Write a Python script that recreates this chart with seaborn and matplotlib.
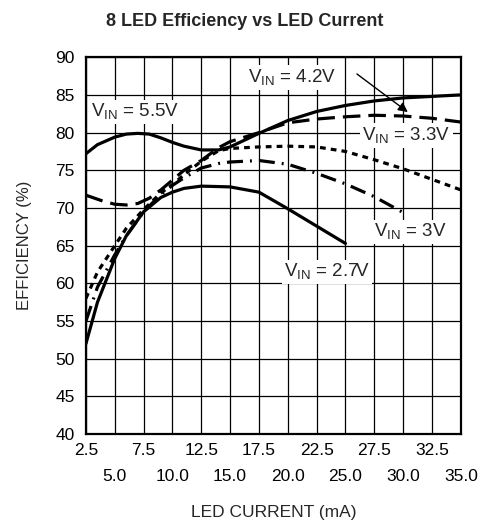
import matplotlib
matplotlib.use("Agg")
import matplotlib.pyplot as plt
import seaborn as sns
import pandas as pd

# LED current (mA) and efficiency (%)
x_55 = [2.5, 3.5, 5, 6, 7, 8, 9, 10, 11, 12.5, 14, 15, 17.5, 20, 22.5, 25, 27.5, 30, 32.5, 35]
y_55 = [77.2, 78.4, 79.4, 79.8, 79.9, 79.8, 79.3, 78.7, 78.2, 77.7, 77.7, 78.1, 79.9, 81.6, 82.8, 83.6, 84.2, 84.6, 84.8, 85.0]

x_42 = [2.5, 4, 5, 6, 7, 8, 9, 10, 11, 12.5, 14, 15, 17.5, 20, 22.5, 25, 27.5, 30, 32.5, 35]
y_42 = [71.7, 70.9, 70.5, 70.4, 70.6, 71.3, 72.4, 73.7, 75.0, 76.3, 78.0, 78.8, 80.0, 81.3, 81.8, 82.1, 82.3, 82.2, 81.9, 81.4]

x_33 = [2.5, 3.5, 5, 6, 7.5, 9, 10, 11, 12.5, 14, 15, 17.5, 20, 22.5, 25, 27.5, 30, 32.5, 35]
y_33 = [58.0, 61.5, 65.0, 67.3, 69.8, 72.0, 73.1, 74.4, 76.2, 77.6, 77.9, 78.1, 78.2, 78.1, 77.5, 76.4, 75.2, 73.8, 72.4]

x_30 = [2.5, 3.5, 5, 6, 7.5, 9, 10, 11, 12.5, 14, 15, 17.5, 20, 22.5, 25, 27.5, 30]
y_30 = [55.0, 59.5, 63.8, 66.3, 69.5, 71.8, 73.0, 74.0, 75.3, 75.9, 76.1, 76.3, 75.8, 74.6, 73.2, 71.5, 69.4]

x_27 = [2.5, 3.5, 5, 6, 7.5, 9, 10, 11, 12.5, 15, 17.5, 20, 22.5, 25]
y_27 = [52.0, 57.5, 63.3, 66.3, 69.5, 71.4, 72.1, 72.6, 72.9, 72.8, 72.1, 69.9, 67.6, 65.3]

x_ticks_top = [2.5, 7.5, 12.5, 17.5, 22.5, 27.5, 32.5]
x_ticks_bottom = [5.0, 10.0, 15.0, 20.0, 25.0, 30.0, 35.0]
y_ticks = [40, 45, 50, 55, 60, 65, 70, 75, 80, 85, 90]

sns.set_style("white")
plt.rcParams["font.family"] = ["Liberation Sans", "DejaVu Sans"]
plt.rcParams["mathtext.fontset"] = "custom"
plt.rcParams["mathtext.rm"] = "Liberation Sans"

fig = plt.figure(figsize=(4.8, 5.2), dpi=100)
ax = fig.add_axes([0.179, 0.165, 0.781, 0.725])

lw = 2.3
series = [
    (x_55, y_55, None),
    (x_42, y_42, (0, (5.5, 2.5))),
    (x_33, y_33, (0, (1.8, 1.6))),
    (x_30, y_30, (0, (5, 2.2, 0.6, 2.2))),
    (x_27, y_27, None),
]
for xs, ys, dash in series:
    df = pd.DataFrame({"x": xs, "y": ys})
    sns.lineplot(data=df, x="x", y="y", ax=ax, color="black", linewidth=lw)
    if dash is not None:
        ax.lines[-1].set_linestyle(dash)
        ax.lines[-1].set_dash_capstyle("butt")

ax.set_xlim(2.5, 35)
ax.set_ylim(40, 90)
# two rows of x labels: major ticks on the upper row, minor ticks lower
ax.set_xticks(x_ticks_top)
ax.set_xticklabels([f"{v:.1f}" for v in x_ticks_top])
ax.set_xticks(x_ticks_bottom, minor=True)
ax.set_xticklabels([f"{v:.1f}" for v in x_ticks_bottom], minor=True)
ax.set_yticks(y_ticks)
ax.grid(True, which="both", axis="x", color="black", linewidth=0.9)
ax.grid(True, which="major", axis="y", color="black", linewidth=0.9)
ax.set_axisbelow(True)
for s in ax.spines.values():
    s.set_color("black")
    s.set_linewidth(1.6)
ax.tick_params(which="both", length=0, labelsize=12.5, colors="black")
ax.tick_params(axis="y", pad=8)
ax.tick_params(axis="x", which="major", pad=6)
ax.tick_params(axis="x", which="minor", pad=25)

ax.set_xlabel("LED CURRENT (mA)", fontsize=12.5, labelpad=15)
ax.set_ylabel("EFFICIENCY (%)", fontsize=12, labelpad=17)
fig.suptitle("8 LED Efficiency vs LED Current", x=0.51, y=0.975, fontsize=13, fontweight="bold")

box = dict(facecolor="white", edgecolor="none", pad=1.5)
tk = dict(fontsize=13.5, ha="center", va="center", bbox=box)
ax.text(6.8, 82.7, r"V$_{\mathrm{IN}}$ = 5.5V", **tk)
ax.text(20.4, 87.3, r"V$_{\mathrm{IN}}$ = 4.2V", **tk)
ax.text(30.3, 79.6, r"V$_{\mathrm{IN}}$ = 3.3V", **tk)
ax.text(30.6, 66.8, r"V$_{\mathrm{IN}}$ = 3V", **tk)
ax.text(23.4, 61.5, r"V$_{\mathrm{IN}}$ = 2.7V", **tk)
ax.annotate("", xy=(30.6, 82.5), xytext=(25.8, 88.0),
            arrowprops=dict(arrowstyle="-|>", color="black", lw=1.0, mutation_scale=14))

fig.savefig("out.png", dpi=100)
